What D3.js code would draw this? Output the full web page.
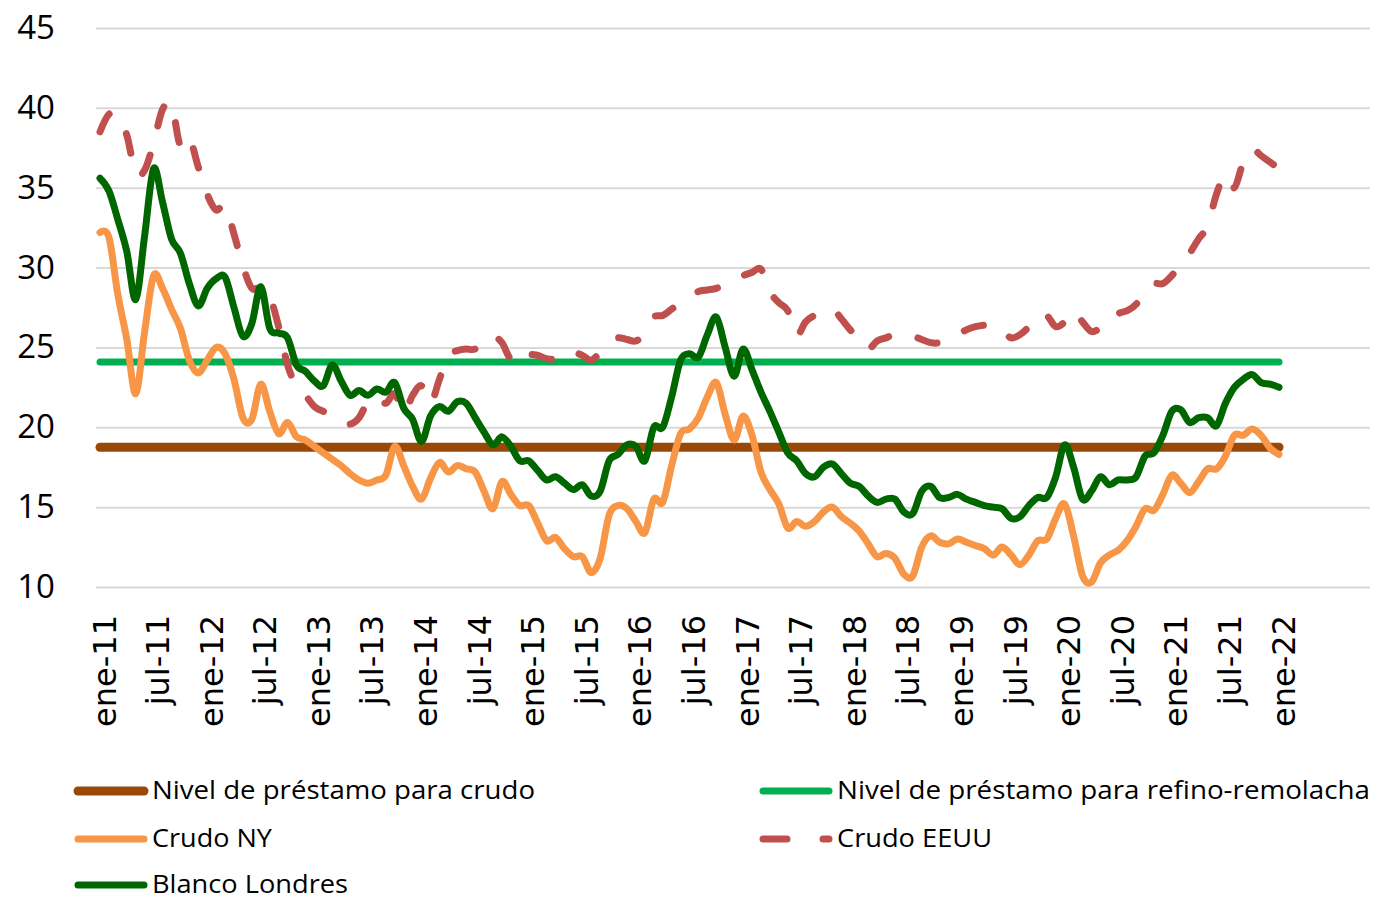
<!DOCTYPE html>
<html>
<head>
<meta charset="utf-8">
<script src="https://cdn.jsdelivr.net/npm/d3@7"></script>
<style>
  body { margin: 0; background: #fff; }
</style>
</head>
<body>
<script>
// etiquetas del eje x (cada 6 meses, ene-11 .. ene-22)
const tickLabels = ["ene-11","jul-11","ene-12","jul-12","ene-13","jul-13","ene-14","jul-14",
  "ene-15","jul-15","ene-16","jul-16","ene-17","jul-17","ene-18","jul-18","ene-19","jul-19",
  "ene-20","jul-20","ene-21","jul-21","ene-22"];
const yTicks = [10, 15, 20, 25, 30, 35, 40, 45];

// niveles de préstamo
const nivelCrudo = 18.75;
const nivelRefino = 24.09;

// series mensuales ene-11 .. ene-22
const crudoNY = [32.2,31.9,28.3,25.5,22.1,26.0,29.5,28.7,27.4,26.2,24.2,23.4,
  24.2,25.0,24.6,23.0,20.6,20.5,22.7,21.0,19.6,20.3,19.4,19.2,
  18.8,18.4,18.0,17.6,17.1,16.7,16.5,16.7,17.0,18.8,17.6,16.3,
  15.5,16.8,17.8,17.2,17.6,17.4,17.2,16.0,14.9,16.6,15.8,15.1,
  15.1,14.0,12.9,13.1,12.4,11.9,11.9,10.9,11.8,14.5,15.1,14.9,
  14.1,13.4,15.5,15.3,17.6,19.6,19.9,20.6,21.9,22.8,20.8,19.2,
  20.7,19.5,17.2,16.1,15.2,13.7,14.1,13.8,14.1,14.7,15.0,14.4,
  14.0,13.5,12.7,11.9,12.1,11.8,10.8,10.7,12.5,13.2,12.8,12.7,
  13.0,12.8,12.6,12.4,12.0,12.5,12.0,11.4,12.0,12.9,13.0,14.3,
  15.2,13.2,10.7,10.3,11.5,12.0,12.3,12.9,13.8,14.9,14.8,15.8,
  17.0,16.5,15.9,16.6,17.4,17.4,18.2,19.5,19.5,19.9,19.5,18.7,
  18.3];

const crudoEEUU = [38.5,39.6,39.5,38.3,35.9,36.1,37.8,39.9,40.2,37.6,38.1,36.3,
  34.6,33.6,33.9,32.1,30.1,28.7,28.8,28.2,26.3,23.9,22.6,22.0,
  21.3,21.0,20.8,20.4,20.2,20.6,21.6,21.9,21.5,22.1,20.9,22.0,
  22.6,21.5,23.0,24.5,24.8,24.9,24.9,25.5,25.7,25.3,24.3,24.9,
  24.6,24.5,24.3,24.3,24.7,24.7,24.5,24.2,24.7,25.3,25.6,25.5,
  25.4,25.9,26.9,27.0,27.4,27.8,28.2,28.5,28.6,28.7,29.0,29.3,
  29.5,29.7,29.9,28.5,27.8,27.3,25.8,26.6,27.0,27.1,27.4,26.8,
  26.1,25.5,24.9,25.4,25.6,25.8,25.7,25.7,25.5,25.3,25.3,25.6,
  25.8,26.1,26.3,26.4,26.4,26.1,25.6,25.8,26.3,27.0,27.0,26.3,
  26.6,27.3,26.6,26.0,26.2,26.4,27.1,27.3,27.7,28.6,29.0,29.0,
  29.5,30.2,30.9,31.8,32.6,34.6,35.8,35.0,36.6,37.4,37.0,36.6,
  36.2];

const blancoLondres = [35.6,34.8,33.0,31.0,28.0,32.0,36.2,34.1,31.8,30.9,29.0,27.6,
  28.7,29.3,29.4,27.5,25.7,26.5,28.8,26.2,25.9,25.6,23.9,23.5,
  22.9,22.6,23.9,22.9,22.0,22.3,22.0,22.4,22.2,22.8,21.2,20.5,
  19.1,20.7,21.3,21.0,21.6,21.5,20.6,19.7,18.9,19.4,18.8,17.9,
  17.9,17.3,16.7,16.9,16.5,16.1,16.4,15.7,16.0,17.9,18.3,18.9,
  18.8,17.9,20.0,20.0,21.9,24.2,24.6,24.4,25.8,26.9,25.0,23.2,
  24.9,23.6,22.2,21.0,19.7,18.4,17.9,17.1,16.9,17.5,17.7,17.1,
  16.5,16.3,15.7,15.3,15.5,15.5,14.7,14.6,16.0,16.3,15.6,15.6,
  15.8,15.5,15.3,15.1,15.0,14.9,14.3,14.4,15.1,15.6,15.6,16.9,
  18.9,17.5,15.5,16.0,16.9,16.4,16.7,16.7,16.9,18.2,18.4,19.5,
  21.0,21.1,20.3,20.6,20.6,20.1,21.5,22.5,23.0,23.3,22.8,22.7,
  22.5];

const width = 1375, height = 902;
const lastIdx = crudoNY.length - 1;

const svg = d3.select("body").append("svg")
    .attr("width", width)
    .attr("height", height);

const x = d3.scaleLinear().domain([0, lastIdx]).range([100, 1279]);
const y = d3.scaleLinear().domain([10, 45]).range([587, 28]);

// eje y + rejilla
const yAxis = svg.append("g")
    .attr("transform", "translate(96,0)")
    .call(d3.axisLeft(y).tickValues(yTicks).tickSize(-(1370 - 96)).tickPadding(41));
yAxis.select(".domain").remove();
yAxis.selectAll(".tick line").attr("stroke", "#d9d9d9").attr("stroke-width", 2);
yAxis.selectAll(".tick text")
    .attr("fill", "#000")
    .style("font-family", "'Open Sans', sans-serif")
    .style("font-size", "33px");

// eje x
const xAxis = svg.append("g")
    .attr("transform", "translate(0," + y(10) + ")")
    .call(d3.axisBottom(x).tickValues(d3.range(0, lastIdx + 1, 6))
      .tickFormat((d, i) => tickLabels[i]).tickSize(0));
xAxis.select(".domain").remove();
xAxis.selectAll(".tick text")
    .attr("x", 0).attr("y", 0).attr("dy", null)
    .attr("text-anchor", "end")
    .attr("transform", "translate(15,28) rotate(-90)")
    .attr("fill", "#000")
    .style("font-family", "'DejaVu Sans', sans-serif")
    .style("font-size", "32px");

// series
const smooth = d3.line()
    .x(function(d, i) { return x(i); })
    .y(function(d) { return y(d); })
    .curve(d3.curveCardinal.tension(0));

const flat = d3.line()
    .x(function(d) { return x(d[0]); })
    .y(function(d) { return y(d[1]); });

svg.append("path")
    .datum([[0, nivelCrudo], [lastIdx, nivelCrudo]])
    .attr("fill", "none").attr("stroke", "#984807").attr("stroke-width", 9)
    .attr("stroke-linecap", "round")
    .attr("d", flat);

svg.append("path")
    .datum([[0, nivelRefino], [lastIdx, nivelRefino]])
    .attr("fill", "none").attr("stroke", "#00b050").attr("stroke-width", 7)
    .attr("stroke-linecap", "round")
    .attr("d", flat);

svg.append("path")
    .datum(crudoNY)
    .attr("fill", "none").attr("stroke", "#f79646").attr("stroke-width", 7)
    .attr("stroke-linecap", "round").attr("stroke-linejoin", "round")
    .attr("d", smooth);

svg.append("path")
    .datum(crudoEEUU)
    .attr("fill", "none").attr("stroke", "#c0504d").attr("stroke-width", 7)
    .attr("stroke-linecap", "round").attr("stroke-linejoin", "round")
    .attr("stroke-dasharray", "20,30")
    .attr("d", smooth);

svg.append("path")
    .datum(blancoLondres)
    .attr("fill", "none").attr("stroke", "#006600").attr("stroke-width", 7)
    .attr("stroke-linecap", "round").attr("stroke-linejoin", "round")
    .attr("d", smooth);

// leyenda
const legendItems = [
  {name: "Nivel de préstamo para crudo", color: "#984807", w: 9, dash: null, lx: 78, ly: 791, tl: 383},
  {name: "Nivel de préstamo para refino-remolacha", color: "#00b050", w: 7, dash: null, lx: 763, ly: 791, tl: 533},
  {name: "Crudo NY", color: "#f79646", w: 7, dash: null, lx: 78, ly: 839, tl: 120},
  {name: "Crudo EEUU", color: "#c0504d", w: 7, dash: "24,36", lx: 763, ly: 839, tl: 155},
  {name: "Blanco Londres", color: "#006600", w: 7, dash: null, lx: 78, ly: 885, tl: 196}
];

const legend = svg.append("g").selectAll("g").data(legendItems).join("g");
legend.append("line")
    .attr("x1", d => d.lx).attr("x2", d => d.lx + 66)
    .attr("y1", d => d.ly).attr("y2", d => d.ly)
    .attr("stroke", d => d.color).attr("stroke-width", d => d.w)
    .attr("stroke-linecap", "round")
    .attr("stroke-dasharray", d => d.dash);
legend.append("text")
    .attr("x", d => d.lx + 74).attr("y", d => d.ly + 8)
    .attr("textLength", d => d.tl).attr("lengthAdjust", "spacingAndGlyphs")
    .style("font-family", "'Open Sans', sans-serif")
    .style("font-size", "26px")
    .attr("fill", "#000")
    .text(d => d.name);
</script>
</body>
</html>
